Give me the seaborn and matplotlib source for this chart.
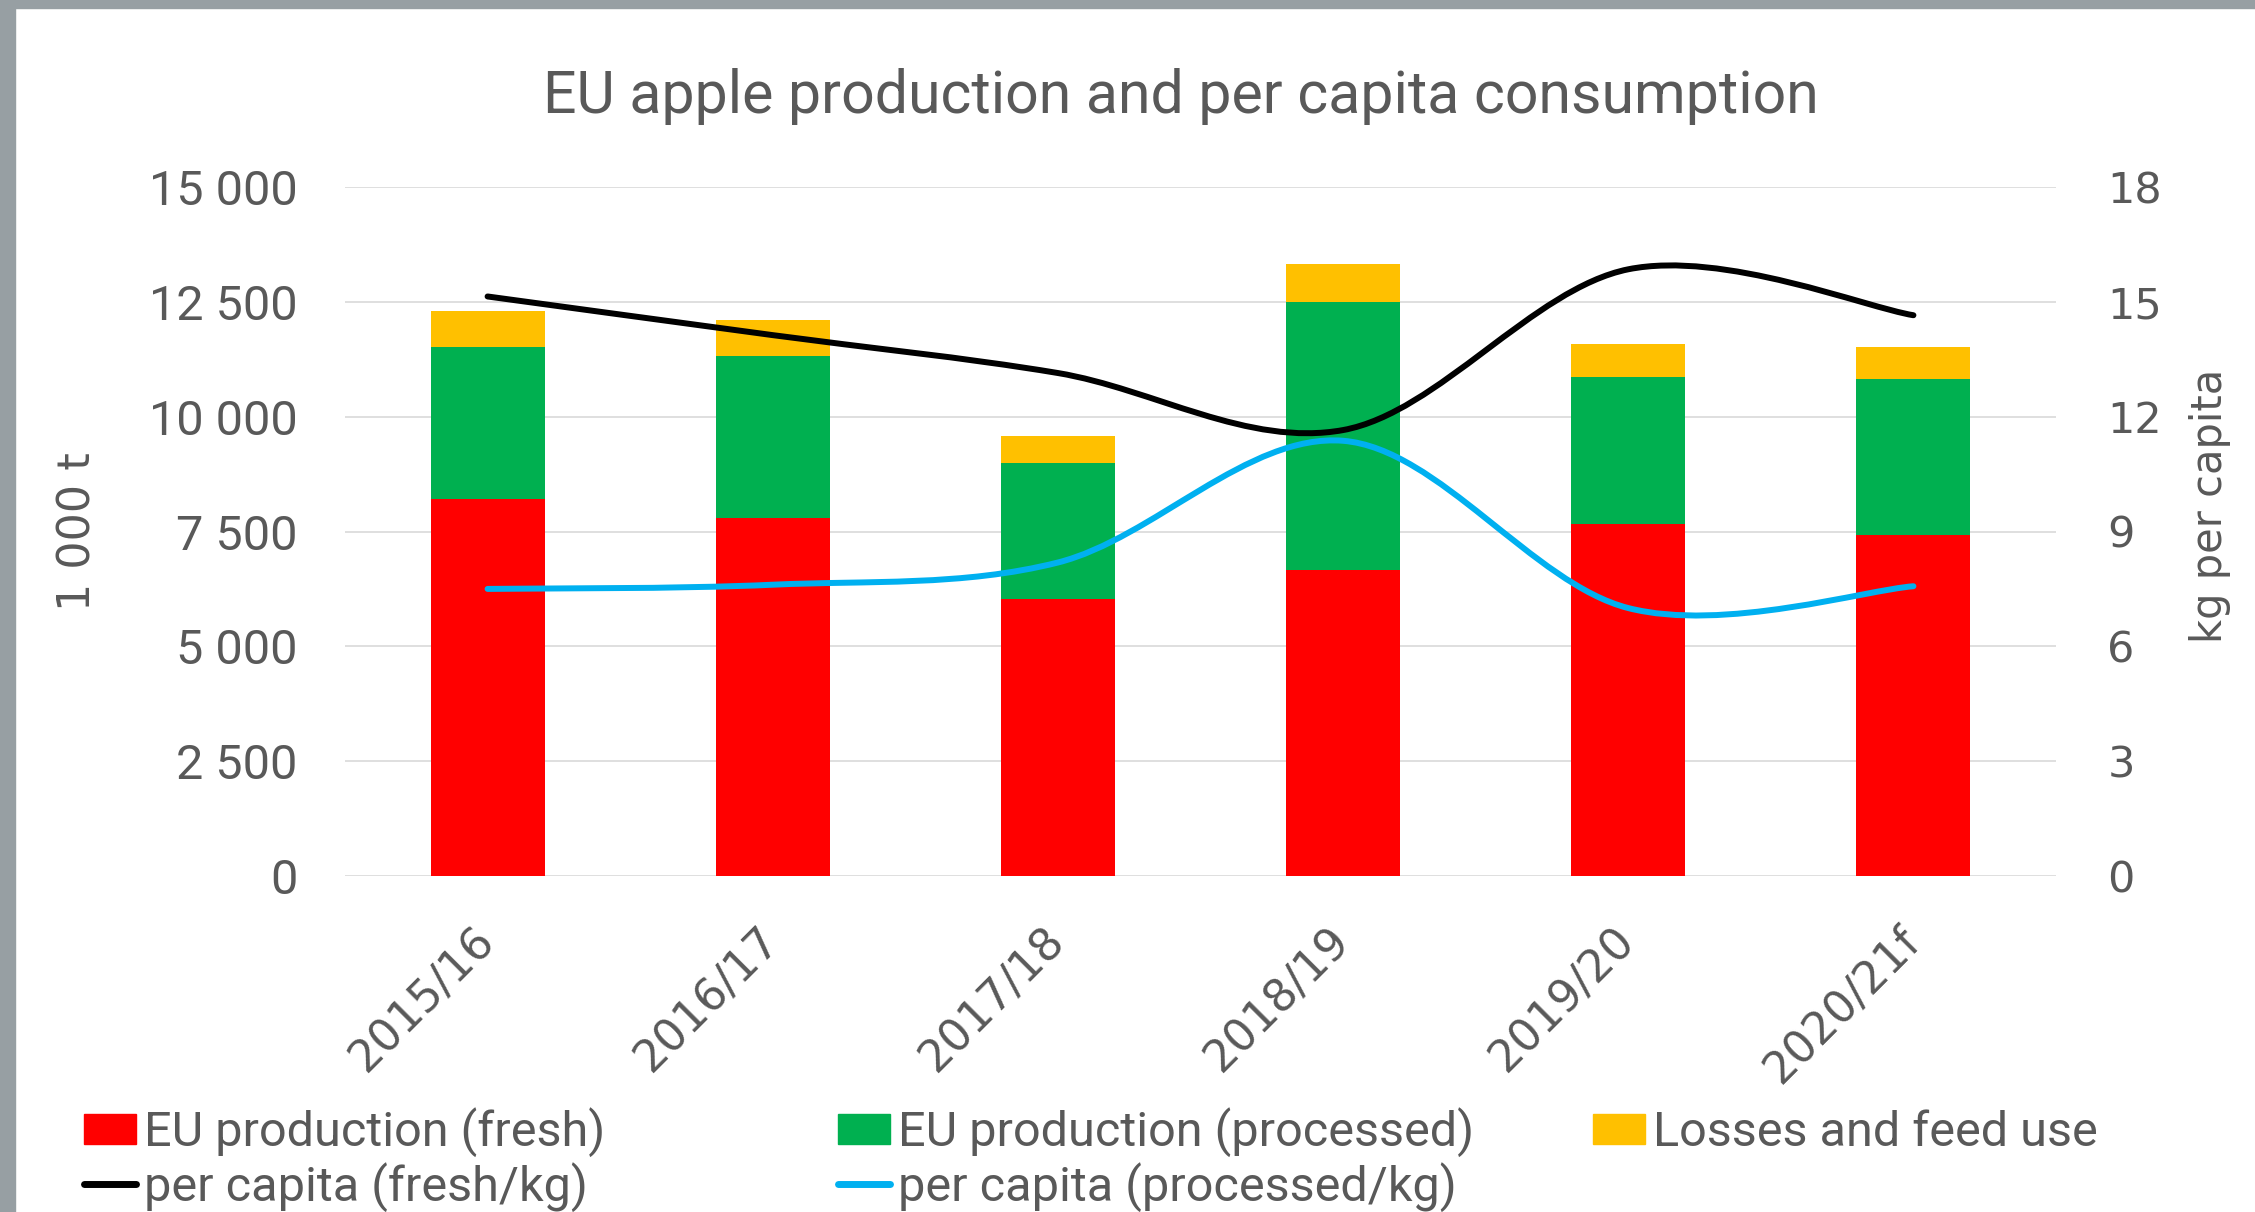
import numpy as np
import pandas as pd
import seaborn as sns
import matplotlib.pyplot as plt
from matplotlib.path import Path
from matplotlib.patches import PathPatch, Patch, Rectangle
from matplotlib.lines import Line2D
from matplotlib.ticker import FuncFormatter

# values (1 000 t and kg per capita)
seasons = ["2015/16", "2016/17", "2017/18", "2018/19", "2019/20", "2020/21f"]
fresh = [8200, 7790, 6040, 6670, 7670, 7420]
processed = [3310, 3540, 2950, 5830, 3190, 3390]
losses = [790, 775, 595, 820, 715, 700]
pc_fresh = [15.14, 14.13, 13.14, 11.65, 15.85, 14.65]
pc_processed = [7.5, 7.61, 8.19, 11.37, 7.0, 7.57]

sns.set_style("white")
plt.rcParams["font.family"] = ["Roboto", "DejaVu Sans"]
grey = "#595959"
c_fresh, c_proc, c_loss = "#FF0000", "#00B050", "#FFC000"
c_pcf, c_pcp = "#000000", "#00B0F0"

df = pd.DataFrame({"season": seasons, "fresh": fresh,
                   "processed": processed, "losses": losses})
# stacked bars = cumulative heights drawn from the back
df["fresh_proc"] = df["fresh"] + df["processed"]
df["total"] = df["fresh_proc"] + df["losses"]

fig = plt.figure(figsize=(22.55, 12.12), dpi=100)
ax = fig.add_axes([345 / 2255, 1 - 876 / 1212, 1711 / 2255, 689 / 1212])

for col, c in [("total", c_loss), ("fresh_proc", c_proc), ("fresh", c_fresh)]:
    sns.barplot(data=df, x="season", y=col, color=c, width=0.4, ax=ax,
                saturation=1, errorbar=None, edgecolor="none")

ax.set_xlim(-0.5, 5.5)
ax.set_ylim(0, 15000)
ax.set_yticks(range(0, 15001, 2500))
ax.yaxis.set_major_formatter(FuncFormatter(lambda v, p: f"{v:,.0f}".replace(",", " ")))
ax.grid(axis="y", color="#D9D9D9", lw=1.2)
ax.set_axisbelow(True)
sns.despine(ax=ax, left=True, bottom=True)
ax.set_xlabel("")
ax.set_ylabel("")
ax.tick_params(axis="y", length=0, pad=34, labelsize=35, labelcolor=grey)
ax.tick_params(axis="x", length=0, pad=42, labelcolor=grey)
for lab in ax.get_xticklabels():
    lab.set(rotation=45, ha="right", va="center", rotation_mode="anchor",
            family="DejaVu Sans", fontsize=32)

# right axis, per capita
ax2 = ax.twinx()
ax2.set_ylim(0, 18)
ax2.set_yticks(range(0, 19, 3))
ax2.tick_params(axis="y", length=0, pad=37, labelsize=31, labelcolor=grey)
for lab in ax2.get_yticklabels():
    lab.set_family("DejaVu Sans")
for s in ax2.spines.values():
    s.set_visible(False)
ax2.grid(False)


def smooth_path(vals):
    # excel style smoothed line: bezier segments through the points
    pts = np.column_stack([np.arange(len(vals)), vals]).astype(float)
    n = len(pts)
    verts = [pts[0]]
    codes = [Path.MOVETO]
    for i in range(n - 1):
        p0, p1 = pts[max(i - 1, 0)], pts[i]
        p2, p3 = pts[i + 1], pts[min(i + 2, n - 1)]
        verts += [p1 + (p2 - p0) / 6, p2 - (p3 - p1) / 6, p2]
        codes += [Path.CURVE4] * 3
    return Path(verts, codes)


ax2.add_patch(PathPatch(smooth_path(pc_fresh), fill=False, edgecolor=c_pcf,
                        lw=4.3, capstyle="round"))
ax2.add_patch(PathPatch(smooth_path(pc_processed), fill=False, edgecolor=c_pcp,
                        lw=4.3, capstyle="round"))

# legends - three columns like excel
leg_kw = dict(loc="upper left", frameon=False, fontsize=35, handlelength=1.07,
              handleheight=0.58, handletextpad=0.16, labelspacing=0.1,
              borderpad=0, borderaxespad=0, labelcolor=grey,
              bbox_transform=fig.transFigure)
top = 1 - 1107 / 1212
fig.legend([Patch(color=c_fresh), Line2D([], [], color=c_pcf, lw=5, solid_capstyle="round")],
           ["EU production (fresh)", "per capita (fresh/kg)"],
           bbox_to_anchor=(84 / 2255, top), **leg_kw)
fig.legend([Patch(color=c_proc), Line2D([], [], color=c_pcp, lw=5, solid_capstyle="round")],
           ["EU production (processed)", "per capita (processed/kg)"],
           bbox_to_anchor=(838 / 2255, top), **leg_kw)
fig.legend([Patch(color=c_loss)], ["Losses and feed use"],
           bbox_to_anchor=(1593 / 2255, top - 3 / 1212), **leg_kw)

fig.text(1181 / 2255, 1 - 113 / 1212, "EU apple production and per capita consumption",
         ha="center", va="baseline", fontsize=42.5, color=grey)
fig.text(78 / 2255, 1 - 532 / 1212, "1 000 t", rotation=90, ha="center", va="center",
         fontsize=32, color=grey, family="DejaVu Sans")
fig.text(2210 / 2255, 1 - 506 / 1212, "kg per capita", rotation=90, ha="center",
         va="center", fontsize=30, color=grey, family="DejaVu Sans")

# grey frame strips at left and top
fig.patches.append(Rectangle((0, 0), 15 / 2255, 1, transform=fig.transFigure,
                             color="#979FA3", zorder=10))
fig.patches.append(Rectangle((0, 1 - 8 / 1212), 1, 8 / 1212, transform=fig.transFigure,
                             color="#979FA3", zorder=10))

fig.savefig("out.png", dpi=100)
